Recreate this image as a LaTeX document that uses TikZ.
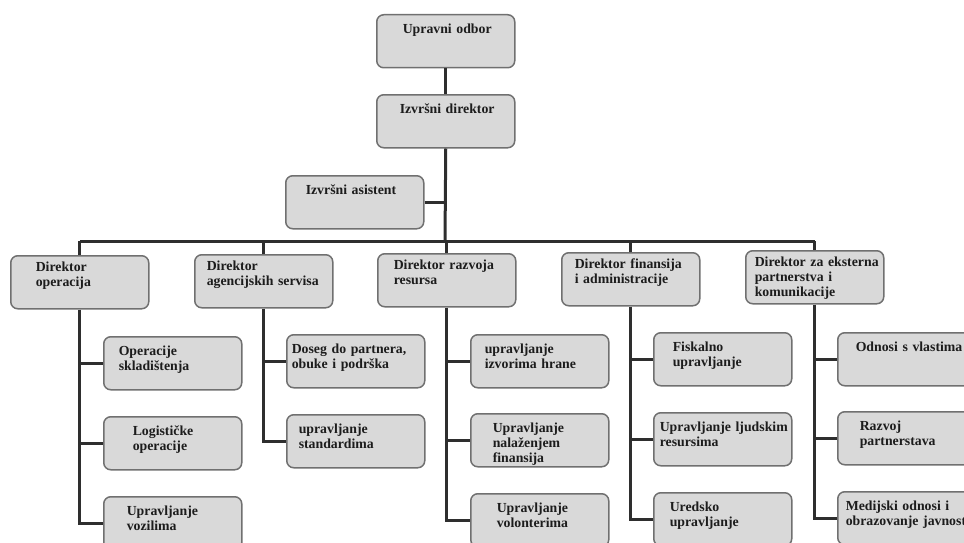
\documentclass[tikz,border=0pt]{standalone}
\usepackage{fontspec}
\setmainfont{Liberation Serif}
\usepackage{tikz}
\usetikzlibrary{positioning,calc}
\usepackage{xcolor}
\definecolor{boxgray}{RGB}{217,217,217}
\definecolor{edgegray}{RGB}{112,112,112}
\definecolor{linegray}{RGB}{46,46,46}
\definecolor{textgray}{RGB}{28,28,28}
\newcommand{\boxtext}[2]{\hspace*{#1pt}\begin{tabular}[t]{@{}l@{}}#2\end{tabular}}

\begin{document}
\begin{tikzpicture}[x=1pt,y=-1pt,
        box/.style={draw=edgegray,line width=1.5pt,fill=boxgray,rounded corners=7pt,
            anchor=north west,minimum width=138pt,minimum height=53pt,text width=138pt,
            inner xsep=0pt,inner ysep=3pt,align=left,text height=16pt,text depth=31pt,
            text=textgray,font=\fontsize{13.8}{15}\selectfont\bfseries},
        dirbox/.style={box,text height=13pt,text depth=34pt},
        conn/.style={draw=linegray,line width=3pt}]
        \useasboundingbox (0,0) rectangle (964,543);

        % Board and executive office
        \node[box] (uo) at (376,14) {\boxtext{26}{Upravni odbor}};
        \node[box] (id) at (376,94) {\boxtext{23}{Izvršni direktor}};
        \node[box] (ia) at (285,175) {\boxtext{20}{Izvršni asistent}};

        % Directors
        \node[dirbox] (dop) at (10,255) {\boxtext{25}{Direktor\\operacija}};
        \node[dirbox] (das) at (194,254) {\boxtext{12}{Direktor\\agencijskih servisa}};
        \node[dirbox] (drr) at (377,253) {\boxtext{16}{Direktor razvoja\\resursa}};
        \node[dirbox] (dfa) at (561,252) {\boxtext{13}{Direktor finansija\\i administracije}};
        \node[dirbox] (dek) at (745,250) {\boxtext{9}{Direktor za eksterna\\partnerstva i\\komunikacije}};

        % Operations
        \node[box] (os) at (103,336) {\boxtext{15}{Operacije\\skladištenja}};
        \node[box] (lo) at (103,416) {\boxtext{29}{Logističke\\operacije}};
        \node[box] (uv) at (103,496) {\boxtext{23}{Upravljanje\\vozilima}};

        % Agency services
        \node[box] (dp) at (286,334) {\boxtext{5}{Doseg do partnera,\\obuke i podrška}};
        \node[box] (us) at (286,414) {\boxtext{12}{upravljanje\\standardima}};

        % Resource development
        \node[box] (ui) at (470,334) {\boxtext{14}{upravljanje\\izvorima hrane}};
        \node[box] (un) at (470,413) {\boxtext{22}{Upravljanje\\nalaženjem\\finansija}};
        \node[box] (uvo) at (470,493) {\boxtext{26}{Upravljanje\\volonterima}};

        % Finance and administration
        \node[box] (fu) at (653,332) {\boxtext{19}{Fiskalno\\upravljanje}};
        \node[box] (ul) at (653,412) {\boxtext{6}{Upravljanje ljudskim\\resursima}};
        \node[box] (ur) at (653,492) {\boxtext{16}{Uredsko\\upravljanje}};

        % External partnerships
        \node[box] (ov) at (837,332) {\boxtext{18}{Odnosi s vlastima}};
        \node[box] (rp) at (837,411) {\boxtext{22}{Razvoj\\partnerstava}};
        \node[box] (mo) at (837,491) {\boxtext{8}{Medijski odnosi i\\obrazovanje javnosti}};

        % Connectors
        \coordinate (bar) at (445,241);
        \draw[conn] (uo) -- (id);
        \draw[conn] (id.south) -- (bar);
        \draw[conn] (ia.east) -- (ia.east -| id.south);
        \draw[conn] (dop.north |- bar) -- (dek.north |- bar);
        \foreach \d in {dop,das,drr,dfa,dek}
            \draw[conn] (\d.north |- bar) -- (\d.north);

        \draw[conn] (dop.south) |- (uv.west);
        \foreach \c in {os,lo}
            \draw[conn] (dop.south |- \c.west) -- (\c.west);
        \draw[conn] (das.south) |- (us.west);
        \draw[conn] (das.south |- dp.west) -- (dp.west);
        \draw[conn] (drr.south) |- (uvo.west);
        \foreach \c in {ui,un}
            \draw[conn] (drr.south |- \c.west) -- (\c.west);
        \draw[conn] (dfa.south) |- (ur.west);
        \foreach \c in {fu,ul}
            \draw[conn] (dfa.south |- \c.west) -- (\c.west);
        \draw[conn] (dek.south) |- (mo.west);
        \foreach \c in {ov,rp}
            \draw[conn] (dek.south |- \c.west) -- (\c.west);
\end{tikzpicture}
\end{document}
